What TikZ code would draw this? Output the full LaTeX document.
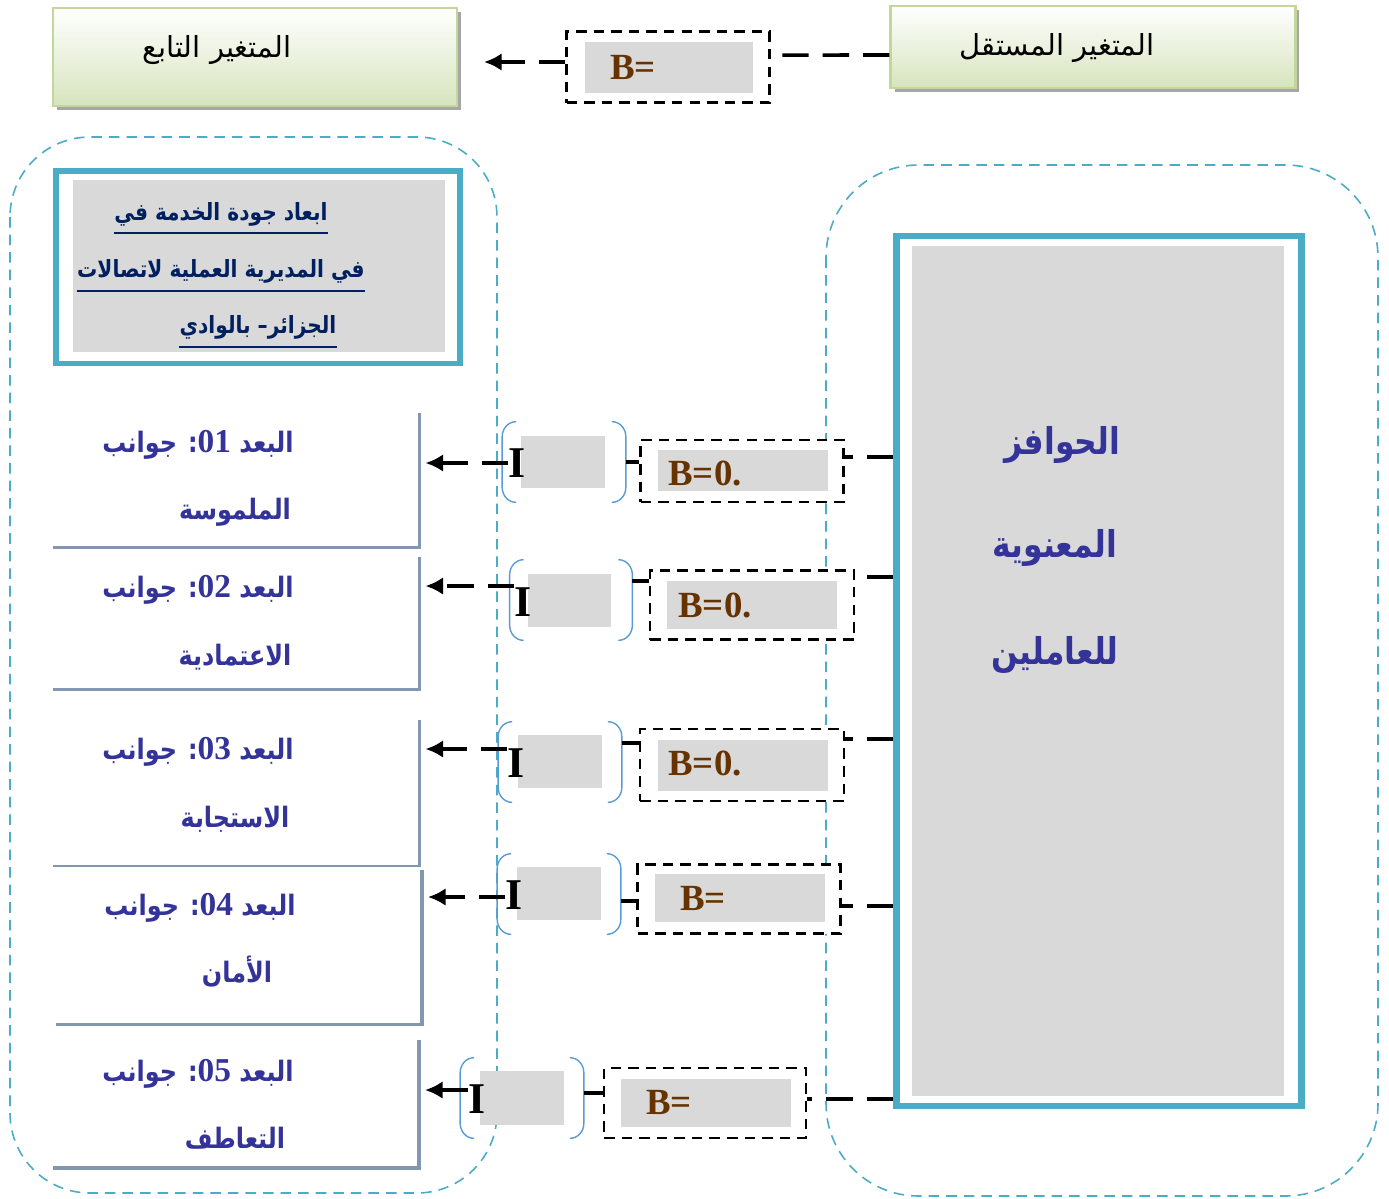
\documentclass[tikz,border=0pt]{standalone}
\usepackage{fontspec}
\setmainfont{Liberation Serif}
\newfontfamily\arabicfont[Script=Arabic]{DejaVu Sans}
\newfontfamily\arabicnarrow[Script=Arabic,FakeStretch=0.85]{DejaVu Sans}
\TeXXeTstate=1
\usetikzlibrary{shadows,arrows.meta}

\definecolor{tealline}{HTML}{4BACC6}
\definecolor{brkblue}{HTML}{5B9BD5}
\definecolor{boxgray}{HTML}{D9D9D9}
\definecolor{dimgray}{HTML}{8497B0}
\definecolor{dimtext}{HTML}{333399}
\definecolor{navy}{HTML}{002060}
\definecolor{coefbrown}{HTML}{663300}
\definecolor{paleolive}{HTML}{D7E4BD}
\definecolor{olive}{HTML}{C3D69B}

\newcommand{\artxt}[1]{{\arabicfont\beginR #1\endR}}
\newcommand{\arbold}[1]{{\arabicnarrow\bfseries\beginR #1\endR}}
\newcommand{\dimnum}[1]{{\rmfamily\bfseries\fontsize{19}{21}\selectfont\beginL #1\endL}}
% round brackets around a bracket node
\newcommand{\brackets}[1]{%
  \draw[brk] ([xshift=0.28cm]#1.north west) to[out=180,in=90] ([yshift=-0.3cm]#1.north west)
    -- ([yshift=0.3cm]#1.south west) to[out=-90,in=180] ([xshift=0.28cm]#1.south west);
  \draw[brk] ([xshift=-0.28cm]#1.north east) to[out=0,in=90] ([yshift=-0.3cm]#1.north east)
    -- ([yshift=0.3cm]#1.south east) to[out=-90,in=0] ([xshift=-0.28cm]#1.south east);}

\tikzstyle{varbox}=[rectangle,draw=olive,line width=1.2pt,top color=white,bottom color=paleolive,
  drop shadow={shadow xshift=0.08cm,shadow yshift=-0.08cm,fill=black!35,opacity=1}]
\tikzstyle{vartxt}=[font=\fontsize{16.5}{18}\selectfont,inner sep=0pt]
\tikzstyle{coefbox}=[rectangle,draw,fill=white,line width=1.3pt,dash pattern=on 6pt off 4pt]
\tikzstyle{grayfill}=[rectangle,fill=boxgray,inner sep=0pt]
\tikzstyle{coeftxt}=[text=coefbrown,font=\fontsize{21}{24}\selectfont\bfseries,anchor=west,inner sep=0pt]
\tikzstyle{conn}=[line width=2pt,dash pattern=on 15pt off 8pt]
\tikzstyle{arr}=[conn,-{Latex[length=10pt,width=10pt]},shorten >=0.12cm]
\tikzstyle{region}=[draw=tealline,line width=0.9pt,dash pattern=on 6pt off 4pt]
\tikzstyle{dimbox}=[rectangle,inner sep=0pt,outer sep=0pt]
\tikzstyle{dimline}=[draw=dimgray,line width=2.2pt]
\tikzstyle{dimtxt}=[text=dimtext,font=\fontsize{16}{18}\selectfont,inner sep=0pt]
\tikzstyle{titletxt}=[text=navy,font=\fontsize{13.5}{15}\selectfont,inner sep=0pt,anchor=base]
\tikzstyle{brk}=[draw=brkblue,line width=0.8pt]
\tikzstyle{brkbox}=[rectangle,minimum width=2.46cm,minimum height=1.6cm,inner sep=0pt]
\tikzstyle{cursor}=[font=\fontsize{25}{28}\selectfont\bfseries,inner sep=0pt]

\begin{document}
\begin{tikzpicture}[x=0.02cm,y=-0.02cm]
  \fill[white] (0,0) rectangle (1389,1198);
  \useasboundingbox (0,0) rectangle (1389,1198);

  % regions
  \draw[region,rounded corners=1.6cm] (10,137) rectangle (497,1193);
  \draw[region,rounded corners=1.85cm] (826,165) rectangle (1378,1196);

  % variables
  \node[varbox,minimum width=8.08cm,minimum height=1.96cm] (dep) at (255,57) {};
  \node[varbox,minimum width=8.1cm,minimum height=1.64cm] (indep) at (1093,47) {};
  \node[vartxt] (deptxt) at (217,50) {\artxt{المتغير  التابع}};
  \node[vartxt] (indeptxt) at (1057,48) {\artxt{المتغير  المستقل}};
  \node[coefbox,minimum width=4.06cm,minimum height=1.42cm] (bTop) at (668,67) {};
  \node[grayfill,minimum width=3.38cm,minimum height=1.02cm] (bTopin) at (669,67) {};
  \node[coeftxt] (bToptxt) at (610,67) {B=};
  \draw[conn] ([yshift=-0.16cm]indep.west) -- (bTop.east |- 0,55);
  \draw[arr] (bTop.west |- 0,62) -- ([xshift=0.4cm]dep.east |- 0,62);

  % dependent variable title
  \node[rectangle,draw=tealline,line width=3.4pt,minimum width=8.1cm,minimum height=3.86cm] (title) at (258,267) {};
  \node[grayfill,minimum width=7.44cm,minimum height=3.44cm] (titlein) at (259,266) {};
  \node[titletxt] (tl1) at (221,220) {\arbold{ابعاد جودة الخدمة في}};
  \node[titletxt] (tl2) at (221,277) {\arbold{في المديرية العملية لاتصالات}};
  \node[titletxt] (tl3) at (258,333) {\arbold{الجزائر– بالوادي}};
  \draw[navy,line width=0.9pt] ([yshift=-0.26cm]tl1.base west) -- ([yshift=-0.26cm]tl1.base east);
  \draw[navy,line width=0.9pt] ([yshift=-0.28cm]tl2.base west) -- ([yshift=-0.28cm]tl2.base east);
  \draw[navy,line width=0.9pt] ([yshift=-0.28cm]tl3.base west) -- ([yshift=-0.28cm]tl3.base east);

  % independent variable
  \node[rectangle,draw=tealline,line width=3.8pt,minimum width=8.1cm,minimum height=17.4cm] (motiv) at (1099,671) {};
  \node[grayfill,minimum width=7.46cm,minimum height=17cm] (motivin) at (1098,671) {};
  \node[dimtxt,font=\fontsize{21}{24}\selectfont] (m1) at (1062,445) {\arbold{الحوافز}};
  \node[dimtxt,font=\fontsize{21}{24}\selectfont] (m2) at (1055,548) {\arbold{المعنوية}};
  \node[dimtxt,font=\fontsize{21}{24}\selectfont] (m3) at (1055,655) {\arbold{للعاملين}};

  % dimensions
  \node[dimbox,minimum width=7.34cm,minimum height=2.7cm] (dim1) at (236,480) {};
  \node[dimbox,minimum width=7.34cm,minimum height=2.66cm] (dim2) at (236,623) {};
  \node[dimbox,minimum width=7.34cm,minimum height=2.92cm] (dim3) at (236,793) {};
  \node[dimbox,minimum width=7.32cm,minimum height=3.1cm] (dim4) at (239,947) {};
  \node[dimbox,minimum width=7.32cm,minimum height=2.56cm] (dim5) at (236,1104) {};
  \draw[dimline] (dim1.north east) -- (dim1.south east) -- (dim1.south west);
  \draw[dimline] (dim2.north east) -- (dim2.south east) -- (dim2.south west);
  \draw[dimline,line width=1.6pt] (dim3.north east) -- (dim3.south east) -- (dim3.south west);
  \draw[dimline] (dim4.north east) -- (dim4.south east) -- (dim4.south west);
  \draw[dimline] (dim5.north east) -- (dim5.south east) -- (dim5.south west);
  \node[dimtxt] (d1a) at (198,445) {\arbold{البعد \dimnum{01}: جوانب}};
  \node[dimtxt] (d1b) at (235,512) {\arbold{الملموسة}};
  \node[dimtxt] (d2a) at (198,590) {\arbold{البعد \dimnum{02}: جوانب}};
  \node[dimtxt] (d2b) at (235,657) {\arbold{الاعتمادية}};
  \node[dimtxt] (d3a) at (198,752) {\arbold{البعد \dimnum{03}: جوانب}};
  \node[dimtxt] (d3b) at (235,819) {\arbold{الاستجابة}};
  \node[dimtxt] (d4a) at (200,908) {\arbold{البعد \dimnum{04}: جوانب}};
  \node[dimtxt] (d4b) at (237,972) {\arbold{الأمان}};
  \node[dimtxt] (d5a) at (198,1074) {\arbold{البعد \dimnum{05}: جوانب}};
  \node[dimtxt] (d5b) at (235,1138) {\arbold{التعاطف}};

  % bracket groups
  \node[brkbox] (brk1) at (564,462) {};
  \node[brkbox,minimum width=2.44cm] (brk2) at (571,600) {};
  \node[brkbox] (brk3) at (560,762) {};
  \node[brkbox] (brk4) at (559,894) {};
  \node[brkbox] (brk5) at (522,1098) {};
  \node[grayfill,minimum width=1.7cm,minimum height=1.04cm] (brk1in) at (563,462) {};
  \node[grayfill,minimum width=1.66cm,minimum height=1.06cm] (brk2in) at (569,600) {};
  \node[grayfill,minimum width=1.7cm,minimum height=1.06cm] (brk3in) at (560,761) {};
  \node[grayfill,minimum width=1.68cm,minimum height=1.06cm] (brk4in) at (559,893) {};
  \node[grayfill,minimum width=1.68cm,minimum height=1.08cm] (brk5in) at (522,1098) {};
  \brackets{brk1}
  \brackets{brk2}
  \brackets{brk3}
  \brackets{brk4}
  \brackets{brk5}
  \node[cursor] (cur1) at (517,463) {I};
  \node[cursor] (cur2) at (523,602) {I};
  \node[cursor] (cur3) at (516,763) {I};
  \node[cursor] (cur4) at (514,895) {I};
  \node[cursor] (cur5) at (477,1099) {I};

  % coefficients
  \node[coefbox,minimum width=4.06cm,minimum height=1.24cm] (coef1) at (742,471) {};
  \node[coefbox,minimum width=4.08cm,minimum height=1.38cm] (coef2) at (752,605) {};
  \node[coefbox,minimum width=4.08cm,minimum height=1.44cm] (coef3) at (742,765) {};
  \node[coefbox,minimum width=4.06cm,minimum height=1.38cm] (coef4) at (739,899) {};
  \node[coefbox,minimum width=4.04cm,minimum height=1.4cm] (coef5) at (705,1103) {};
  \node[grayfill,minimum width=3.42cm,minimum height=0.82cm] (coef1in) at (743,470) {};
  \node[grayfill,minimum width=3.4cm,minimum height=0.96cm] (coef2in) at (752,605) {};
  \node[grayfill,minimum width=3.4cm,minimum height=1.02cm] (coef3in) at (743,765) {};
  \node[grayfill,minimum width=3.4cm,minimum height=0.96cm] (coef4in) at (740,898) {};
  \node[grayfill,minimum width=3.4cm,minimum height=0.96cm] (coef5in) at (706,1103) {};
  \node[coeftxt] (c1) at (668,473) {B=0.};
  \node[coeftxt] (c2) at (678,605) {B=0.};
  \node[coeftxt] (c3) at (668,763) {B=0.};
  \node[coeftxt] (c4) at (680,898) {B=};
  \node[coeftxt] (c5) at (646,1102) {B=};

  % connectors
  \draw[conn] (motiv.west |- 0,457) -- (coef1.east |- 0,457);
  \draw[conn] (motiv.west |- 0,577) -- (coef2.east |- 0,577);
  \draw[conn] (motiv.west |- 0,739) -- (coef3.east |- 0,739);
  \draw[conn] (motiv.west |- 0,906) -- (coef4.east |- 0,906);
  \draw[conn] (motiv.west |- 0,1099) -- (coef5.east |- 0,1099);
  \draw[conn] (coef1.west |- brk1.east) -- (brk1.east);
  \draw[conn] (coef2.west |- 0,581) -- (brk2.east |- 0,581);
  \draw[conn] (coef3.west |- 0,743) -- (brk3.east |- 0,743);
  \draw[conn] (coef4.west |- 0,901) -- (brk4.east |- 0,901);
  \draw[conn] (coef5.west |- 0,1093) -- (brk5.east |- 0,1093);
  \draw[arr] (cur1.west) -- (dim1.east |- cur1.west);
  \draw[arr] (cur2.west |- 0,586) -- (dim2.east |- 0,586);
  \draw[arr] (cur3.west |- 0,749) -- (dim3.east |- 0,749);
  \draw[arr] (cur4.west |- 0,897) -- (dim4.east |- 0,897);
  \draw[arr] (cur5.west |- 0,1090) -- (dim5.east |- 0,1090);
\end{tikzpicture}
\end{document}
